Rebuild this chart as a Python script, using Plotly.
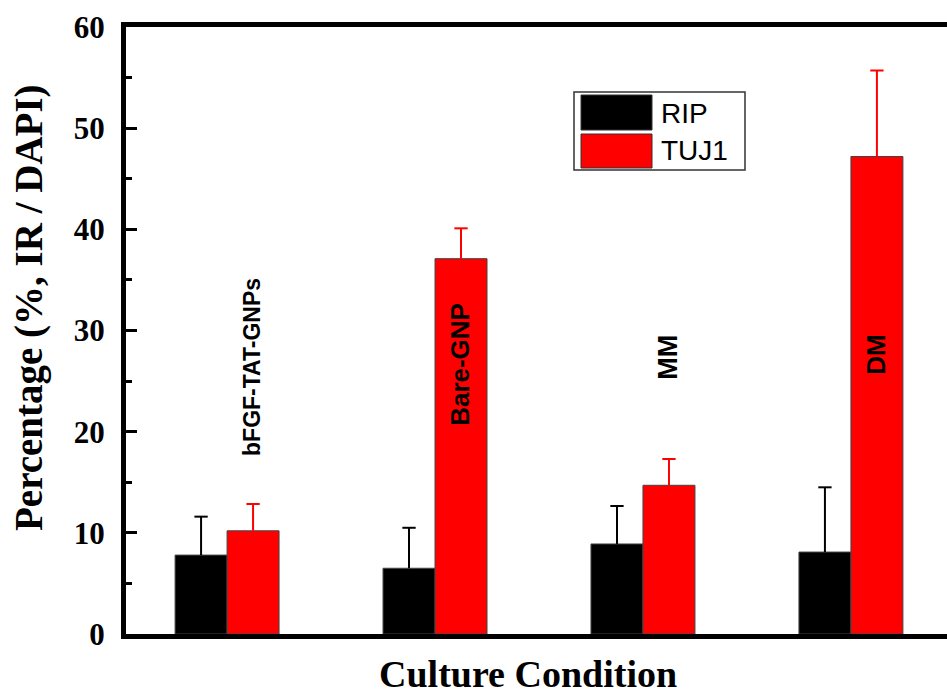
import plotly.graph_objects as go

categories = ["bFGF-TAT-GNPs", "Bare-GNP", "MM", "DM"]
rip = [7.8, 6.5, 8.9, 8.1]
rip_err = [3.8, 4.0, 3.75, 6.4]
tuj1 = [10.2, 37.1, 14.7, 47.2]
tuj1_err = [2.65, 3.0, 2.6, 8.5]
label_y = [26.4, 26.7, 27.4, 27.6]
label_size = [23, 26, 27, 26]
y_ticks = [0, 10, 20, 30, 40, 50, 60]

W, H = 947, 698
L, R, T, B = 126, 947, 27, 634
BAR_W = 0.25      # bar width in category units (bargap 0.5, two bars)
CAP = 0.032       # half cap width in category units


def px(x):
    return (x - L) / (R - L)


def py(y):
    return (B - y) / (B - T)


fig = go.Figure()
xs = list(range(len(categories)))
fig.add_trace(go.Bar(
    x=xs, y=rip, name="RIP",
    marker=dict(color="black", line=dict(color="#444", width=1)),
))
fig.add_trace(go.Bar(
    x=xs, y=tuj1, name="TUJ1",
    marker=dict(color="#ff0000", line=dict(color="#444", width=1)),
))


def err_path(vals, errs, offset):
    ex, ey = [], []
    for i, (v, e) in enumerate(zip(vals, errs)):
        xc = i + offset
        ex += [xc, xc, None, xc - CAP, xc + CAP, None]
        ey += [v, v + e, None, v + e, v + e, None]
    return ex, ey


for vals, errs, off, col in [(rip, rip_err, -BAR_W / 2, "black"),
                             (tuj1, tuj1_err, BAR_W / 2, "#ff0000")]:
    ex, ey = err_path(vals, errs, off)
    fig.add_trace(go.Scatter(x=ex, y=ey, mode="lines", line=dict(color=col, width=2),
                             hoverinfo="skip", showlegend=False))

annotations = []
for i, (lab, ly, ls) in enumerate(zip(categories, label_y, label_size)):
    annotations.append(dict(
        x=i + 0.12, y=ly, xref="x", yref="y", text=lab, textangle=-90,
        showarrow=False, font=dict(family="Liberation Sans", size=ls, color="black", weight="bold"),
    ))

# axis titles
annotations.append(dict(
    x=px(528), y=py(697), xref="paper", yref="paper", text="Culture Condition",
    showarrow=False, xanchor="center", yanchor="bottom",
    font=dict(family="Liberation Serif", size=38, color="black", weight="bold"),
))
annotations.append(dict(
    x=px(29), y=py(308), xref="paper", yref="paper", text="Percentage (%, IR / DAPI)",
    showarrow=False, xanchor="center", yanchor="middle", textangle=-90,
    font=dict(family="Liberation Serif", size=39, color="black", weight="bold"),
))

# legend (drawn)
shapes = [
    dict(type="rect", xref="paper", yref="paper", x0=px(574), x1=px(745), y0=py(170), y1=py(92),
         line=dict(color="#333", width=1.5), fillcolor="white"),
    dict(type="rect", xref="paper", yref="paper", x0=px(581), x1=px(652), y0=py(130), y1=py(95),
         line=dict(color="#333", width=1), fillcolor="black"),
    dict(type="rect", xref="paper", yref="paper", x0=px(581), x1=px(652), y0=py(168), y1=py(134),
         line=dict(color="#333", width=1), fillcolor="#ff0000"),
]
for name, yc in [("RIP", 113), ("TUJ1", 151)]:
    annotations.append(dict(
        x=px(659), y=py(yc), xref="paper", yref="paper", text=name, showarrow=False,
        xanchor="left", yanchor="middle",
        font=dict(family="Liberation Sans", size=28, color="black"),
    ))

fig.update_layout(
    width=W, height=H,
    margin=dict(l=L, r=W - R, t=T, b=H - B),
    paper_bgcolor="white", plot_bgcolor="white",
    barmode="group", bargap=0.5, bargroupgap=0,
    showlegend=False,
    annotations=annotations, shapes=shapes,
    xaxis=dict(type="linear", range=[-0.486, 3.462], showticklabels=False, ticks="", showgrid=False,
               zeroline=False, showline=True, linecolor="black", linewidth=5, mirror=True),
    yaxis=dict(range=[0, 60], tickvals=y_ticks, ticks="inside", ticklen=11, tickwidth=3,
               tickcolor="black", showgrid=False, zeroline=False, showline=True,
               linecolor="black", linewidth=5, mirror=False, ticklabelstandoff=10,
               tickfont=dict(family="Liberation Serif", size=31, color="black", weight="bold"),
               minor=dict(dtick=5, ticks="inside", ticklen=6, tickwidth=3, tickcolor="black",
                          showgrid=False)),
)

fig.write_html("out.html")
